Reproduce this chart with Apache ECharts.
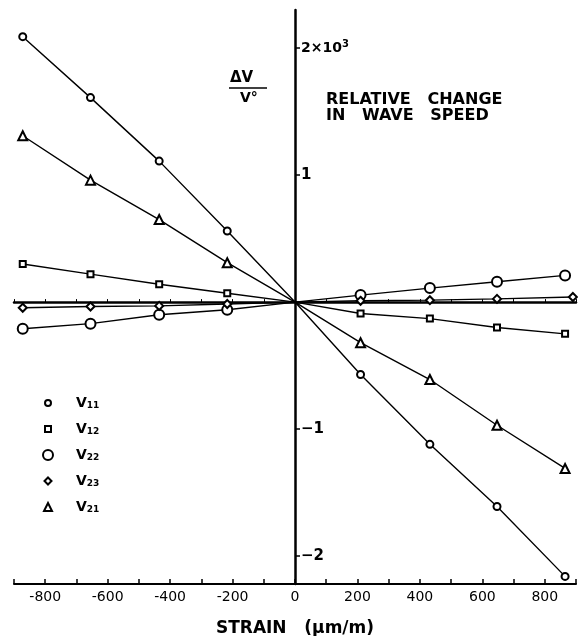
<!DOCTYPE html>
<html><head><meta charset="utf-8">
<script src="https://cdn.jsdelivr.net/npm/echarts@6/dist/echarts.min.js"></script>
<style>html,body{margin:0;padding:0;background:#fff}#c{width:578px;height:636px}</style>
</head><body><div id="c"></div>
<script>
// strain (µm/m)
const strain    = [-872, -655, -435, -217, 0, 210, 432, 647, 865];
const strainV23 = [-872, -655, -435, -217, 0, 210, 432, 647, 890];
// relative change in wave speed (×10^-3)
const V11 = [2.09, 1.61, 1.11, 0.56, 0, -0.57, -1.12, -1.61, -2.16];
const V12 = [0.30, 0.22, 0.14, 0.07, 0, -0.09, -0.13, -0.20, -0.25];
const V22 = [-0.21, -0.17, -0.10, -0.06, 0, 0.055, 0.11, 0.16, 0.21];
const V23 = [-0.045, -0.035, -0.03, -0.015, 0, 0.01, 0.015, 0.025, 0.04];
const V21 = [1.31, 0.96, 0.65, 0.31, 0, -0.32, -0.61, -0.97, -1.31];
const names = ['V11', 'V12', 'V22', 'V23', 'V21'];
const xTickLabels = [-800, -600, -400, -200, 0, 200, 400, 600, 800];
const yTickValues = [2, 1, -1, -2];

const seriesDefs = [
  {name: 'V11', xs: strain, ys: V11, symbol: 'emptyCircle', size: 7},
  {name: 'V12', xs: strain, ys: V12, symbol: 'emptyRect', size: 6},
  {name: 'V22', xs: strain, ys: V22, symbol: 'emptyCircle', size: 10},
  {name: 'V23', xs: strainV23, ys: V23, symbol: 'emptyDiamond', size: 8},
  {name: 'V21', xs: strain, ys: V21, symbol: 'emptyTriangle', size: 9}
];

const FONT = 'DejaVu Sans';
const GRID = {left: 14, right: 2, top: 10, bottom: 52};
const X_MIN = -900, X_MAX = 900;
// shift the y axis so that it sits on strain = 0
const yAxisOffset = -((0 - X_MIN) / (X_MAX - X_MIN)) * (578 - GRID.left - GRID.right);

const legendRows = [405, 431, 457, 483, 509];
const legendIconSize = [6, 6, 10, 7, 8];
const legends = seriesDefs.map((s, i) => {
  const w = legendIconSize[i];
  return {
    data: [{name: s.name, icon: s.symbol}],
    left: 47 - w / 2, top: legendRows[i] - 9,
    padding: 0, itemWidth: w, itemHeight: w,
    selectedMode: false,
    itemStyle: {color: '#000', borderColor: '#000', borderWidth: 1.3},
    formatter: n => '{v|V}{s|' + n.slice(1) + '}',
    textStyle: {
      color: '#000', fontFamily: FONT, fontWeight: 'bold',
      rich: {
        v: {fontSize: 14, fontWeight: 'bold', fontFamily: FONT, color: '#000', padding: [0, 0, 0, 75 - (47 + w / 2 + 5)]},
        s: {fontSize: 9, fontWeight: 'bold', fontFamily: FONT, color: '#000', padding: [6, 0, 0, 0]}
      }
    }
  };
});

const chart = echarts.init(document.getElementById('c'), null, {renderer: 'canvas'});
chart.setOption({
  backgroundColor: '#fff',
  animation: false,
  grid: Object.assign({outerBoundsMode: 'none'}, GRID),
  legend: legends,
  xAxis: [{
    type: 'value', min: X_MIN, max: X_MAX, interval: 100, position: 'bottom',
    axisLine: {onZero: false, lineStyle: {color: '#000', width: 2}},
    axisTick: {inside: true, length: 5, lineStyle: {color: '#000', width: 1.5}},
    splitLine: {show: false},
    axisLabel: {
      color: '#000', fontFamily: FONT, fontSize: 14, margin: 6,
      formatter: v => (xTickLabels.indexOf(v) >= 0 ? String(v) : '')
    },
    name: 'STRAIN   (\u03bcm/m)', nameLocation: 'middle', nameGap: 36,
    nameTextStyle: {color: '#000', fontFamily: FONT, fontWeight: 'bold', fontSize: 17}
  }, {
    type: 'value', min: X_MIN, max: X_MAX, interval: 100, position: 'top',
    axisLine: {onZero: true, lineStyle: {color: '#000', width: 2.5}},
    axisTick: {show: true, length: 3, lineStyle: {color: '#000', width: 1}},
    axisLabel: {show: false}, splitLine: {show: false}
  }],
  yAxis: {
    type: 'value', min: -2.22, max: 2.3, position: 'left', offset: yAxisOffset,
    axisLine: {onZero: false, lineStyle: {color: '#000', width: 2.5}},
    axisTick: {inside: true, length: 5, customValues: yTickValues, lineStyle: {color: '#000', width: 1.5}},
    splitLine: {show: false},
    axisLabel: {
      inside: true, margin: 6, customValues: yTickValues,
      color: '#000', fontFamily: FONT, fontWeight: 'bold', fontSize: 15,
      formatter: v => (v === 2 ? '{n|2\u00d710}{p|3}' : (v < 0 ? '\u2212' + Math.abs(v) : String(v))),
      rich: {
        n: {fontSize: 14, fontWeight: 'bold', fontFamily: FONT, color: '#000'},
        p: {fontSize: 10, fontWeight: 'bold', fontFamily: FONT, color: '#000', padding: [0, 0, 8, 0]}
      }
    }
  },
  graphic: [
    {type: 'text', left: 230, top: 71, style: {text: '\u0394V', font: 'bold 15px "DejaVu Sans"', fill: '#000'}},
    {type: 'line', shape: {x1: 229, y1: 88, x2: 267, y2: 88}, style: {stroke: '#000', lineWidth: 1.5}},
    {type: 'text', left: 240, top: 91, style: {text: 'V\u00b0', font: 'bold 14px "DejaVu Sans"', fill: '#000'}},
    {type: 'text', left: 326, top: 92, style: {text: 'RELATIVE   CHANGE\nIN   WAVE   SPEED', font: 'bold 16px "DejaVu Sans"', lineHeight: 16, fill: '#000'}}
  ],
  series: seriesDefs.map(s => ({
    name: s.name, type: 'line', xAxisIndex: 0,
    symbol: s.symbol, symbolSize: s.size,
    lineStyle: {color: '#000', width: 1.4},
    itemStyle: {color: '#000', borderWidth: 1.4},
    data: s.xs.map((x, i) => (x === 0 ? {value: [x, s.ys[i]], symbol: 'none'} : [x, s.ys[i]]))
  }))
});
</script></body></html>
